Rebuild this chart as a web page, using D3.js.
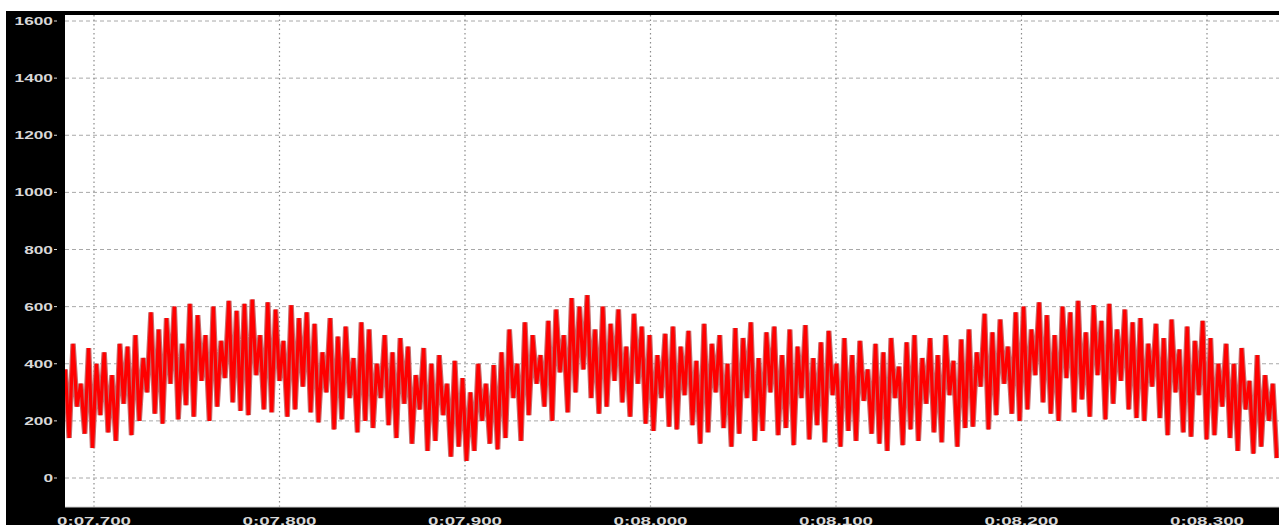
<!DOCTYPE html>
<html>
<head>
<meta charset="utf-8">
<script src="https://cdn.jsdelivr.net/npm/d3@7"></script>
<style>
  body { margin: 0; background: #fff; }
  svg { display: block; }
</style>
</head>
<body>
<div id="chart"></div>
<script>
// waveform samples, alternating peak / trough
let peaks = [
    380, 470, 330, 455, 400,
    440, 360, 470, 460,
    500, 420, 580, 520,
    560, 600, 470, 610, 570, 500,
    600, 480, 620, 585, 610, 625, 500, 615,
    590, 480, 605, 560, 580,
    540, 440, 560, 495, 530, 420, 545,
    520, 400, 500, 440, 490,
    460, 360, 455, 400, 430, 330, 410, 350,
    300, 400, 330, 395,
    440, 520, 400, 545, 500, 430, 550,
    590, 500, 630, 600, 640, 520,
    600, 540, 590, 460, 575, 530,
    500, 430, 505,
    530, 460, 515, 410, 540, 470, 500, 400, 525, 490, 545, 420, 510, 530, 430, 520, 460, 535, 420, 475, 515, 400, 490,
    430, 480, 380, 470, 440, 490, 390, 475, 500, 420, 490, 430, 500, 410, 485,
    520, 440, 575, 510, 555, 460, 580,
    600, 520, 615, 570, 500, 600, 580, 620, 510, 605, 550, 610, 520, 590, 545,
    560, 470, 540, 490, 555, 450, 530, 480, 550,
    490, 400, 470, 400, 455, 340, 430, 360, 330
];
let troughs = [
    140, 250, 155, 105, 220,
    160, 130, 260, 150,
    200, 300, 225, 190,
    330, 205, 255, 215, 340, 200,
    250, 350, 265, 235, 220, 360, 240, 230,
    340, 215, 240, 320, 230,
    195, 300, 170, 205, 280, 160, 200,
    175, 280, 185, 140, 260,
    120, 240, 95, 130, 220, 75, 110, 60,
    95, 200, 120, 100,
    140, 280, 130, 220, 330, 250, 200,
    370, 230, 300, 380, 280, 225,
    250, 340, 265, 215, 330, 190,
    165, 280, 180,
    170, 290, 185, 120, 160, 300, 175, 110, 155, 280, 130, 165, 300, 150, 175, 115, 280, 135, 185, 125, 290, 110, 165,
    130, 270, 155, 120, 95, 280, 115, 170, 130, 260, 160, 125, 290, 110, 175,
    180, 320, 170, 220, 330, 225, 200,
    240, 360, 265, 225, 200, 350, 230, 275, 215, 360, 205, 260, 340, 240, 210,
    200, 320, 210, 150, 300, 160, 145, 290, 135,
    150, 250, 140, 95, 240, 85, 110, 200, 70
];
let sampleStart = 7.6845;   // seconds
let sampleStep = 0.0021;    // seconds between peak and trough

let yTicks = [0, 200, 400, 600, 800, 1000, 1200, 1400, 1600];
let xTicks = [7.7, 7.8, 7.9, 8.0, 8.1, 8.2, 8.3];
let xTickLabels = ["0:07.700", "0:07.800", "0:07.900", "0:08.000", "0:08.100", "0:08.200", "0:08.300"];

let width = 1279, height = 525;
let plot = {left: 65, top: 15, right: 1279, bottom: 507};

let svg = d3.select("#chart").append("svg")
    .attr("width", width)
    .attr("height", height);

// black frame
svg.append("rect")
    .attr("x", 6).attr("y", 11)
    .attr("width", width - 6).attr("height", height - 11)
    .attr("fill", "#000");

svg.append("rect")
    .attr("x", plot.left).attr("y", plot.top)
    .attr("width", plot.right - plot.left).attr("height", plot.bottom - plot.top)
    .attr("fill", "#fff");

let x = d3.scaleLinear().domain([7.7, 8.3]).range([94, 1207]);
let y = d3.scaleLinear().domain([0, 1600]).range([478, 21]);

svg.append("defs").append("clipPath").attr("id", "plotClip")
    .append("rect")
    .attr("x", plot.left).attr("y", plot.top)
    .attr("width", plot.right - plot.left).attr("height", plot.bottom - plot.top);

// grid
let grid = svg.append("g");
grid.selectAll("line.h")
    .data(yTicks)
    .enter().append("line")
    .attr("class", "h")
    .attr("x1", plot.left).attr("x2", plot.right)
    .attr("y1", d => y(d)).attr("y2", d => y(d))
    .attr("stroke", "#a8a8a8")
    .attr("stroke-width", 1)
    .attr("stroke-dasharray", "4,3");

grid.selectAll("line.v")
    .data(xTicks)
    .enter().append("line")
    .attr("class", "v")
    .attr("x1", d => x(d)).attr("x2", d => x(d))
    .attr("y1", plot.top).attr("y2", plot.bottom)
    .attr("stroke", "#8c8c8c")
    .attr("stroke-width", 1.2)
    .attr("stroke-dasharray", "1.5,3");

// build the sample list: peak then trough
let samples = [];
for (let i = 0; i < peaks.length; i++) {
    samples.push({t: sampleStart + (2 * i) * sampleStep, v: peaks[i]});
    samples.push({t: sampleStart + (2 * i + 1) * sampleStep, v: troughs[i]});
}

let line = d3.line()
    .x(d => x(d.t))
    .y(d => y(d.v));

let wave = svg.append("g").attr("clip-path", "url(#plotClip)");
wave.append("path")
    .datum(samples)
    .attr("fill", "none")
    .attr("stroke", "#c86a6a")
    .attr("stroke-width", 5.4)
    .attr("d", line);
wave.append("path")
    .datum(samples)
    .attr("fill", "none")
    .attr("stroke", "#ff0000")
    .attr("stroke-width", 3.2)
    .attr("d", line);

// bottom edge of plot
svg.append("line")
    .attr("x1", plot.left).attr("x2", plot.right)
    .attr("y1", plot.bottom).attr("y2", plot.bottom)
    .attr("stroke", "#cfcfcf");

// y labels
let yLab = svg.append("g");
yLab.selectAll("text")
    .data(yTicks)
    .enter().append("text")
    .attr("x", 53)
    .attr("y", d => y(d) + 4)
    .attr("text-anchor", "end")
    .attr("fill", "#d8d8d8")
    .style("font-family", "Arial, 'Liberation Sans', sans-serif")
    .style("font-size", "11px")
    .style("font-weight", "bold")
    .attr("textLength", d => String(d).length * 9.6)
    .attr("lengthAdjust", "spacingAndGlyphs")
    .text(d => d);
yLab.selectAll("line")
    .data(yTicks)
    .enter().append("line")
    .attr("x1", 54).attr("x2", 57)
    .attr("y1", d => y(d)).attr("y2", d => y(d))
    .attr("stroke", "#d8d8d8");

// x labels, sitting right on the bottom edge as in the original
svg.append("g").selectAll("text")
    .data(xTicks)
    .enter().append("text")
    .attr("x", (d, i) => x(d) - 37)
    .attr("y", 524.5)
    .attr("fill", "#d8d8d8")
    .style("font-family", "Arial, 'Liberation Sans', sans-serif")
    .style("font-size", "10.5px")
    .style("font-weight", "bold")
    .attr("textLength", 74)
    .attr("lengthAdjust", "spacingAndGlyphs")
    .text((d, i) => xTickLabels[i]);
</script>
</body>
</html>
